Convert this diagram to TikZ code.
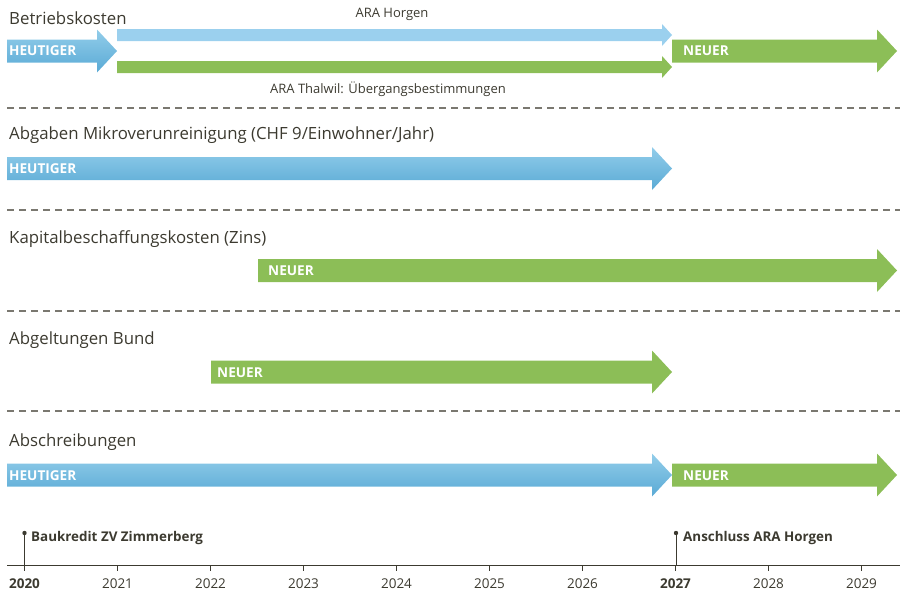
\documentclass[tikz,border=0pt]{standalone}
\usepackage{fontspec}
\setmainfont{Open Sans}
\usetikzlibrary{calc}
\definecolor{txt}{HTML}{3C3A30}
\definecolor{grn}{HTML}{8CBE57}
\definecolor{bltop}{HTML}{92CDEA}
\definecolor{blbot}{HTML}{5AAAD5}
\definecolor{blthin}{HTML}{9BD0EE}
\definecolor{dashc}{HTML}{7A7870}
\tikzset{
  title/.style={anchor=west, text=txt, font=\fontsize{16.8}{20}\selectfont, inner sep=0pt},
  lab/.style={anchor=west, text=white, font=\bfseries\fontsize{13.6}{16}\selectfont, inner sep=0pt},
  small/.style={text=txt, font=\fontsize{13}{15}\selectfont, inner sep=0pt},
  year/.style={text=txt, font=\fontsize{13.5}{16}\selectfont, inner sep=0pt},
  byear/.style={text=txt, font=\bfseries\fontsize{13.5}{16}\selectfont, inner sep=0pt},
  event/.style={anchor=west, text=txt, font=\bfseries\fontsize{13.4}{16}\selectfont, inner sep=0pt},
  sep/.style={draw=dashc, line width=1.2pt, dash pattern=on 7pt off 5pt},
  bluefill/.style={top color=bltop, bottom color=blbot, draw=none},
  greenfill/.style={fill=grn, draw=none},
}
% #1 x start, #2 x tip, #3 y center, #4 style
\newcommand\bigarr[4]{%
  \path[#4] (#1,#3-11.5) -- ({#2-20},#3-11.5) -- ({#2-20},#3-21.5) -- (#2,#3) -- ({#2-20},#3+21.5) -- ({#2-20},#3+11.5) -- (#1,#3+11.5) -- cycle;}
\newcommand\thinarr[4]{%
  \path[#4] (#1,#3-6) -- ({#2-10},#3-6) -- ({#2-10},#3-11) -- (#2,#3) -- ({#2-10},#3+11) -- ({#2-10},#3+6) -- (#1,#3+6) -- cycle;}
\begin{document}
\begin{tikzpicture}[x=1pt,y=-1pt]
\useasboundingbox (0,0) rectangle (900,592);
% separators
\foreach \yy in {108,210,311,411} \draw[sep] (7,\yy) -- (900,\yy);
% Row 1
\node[title] (t1) at (9,18) {Betriebskosten};
\bigarr{7}{117}{51}{bluefill}
\node[lab] (h1) at (9,51) {HEUTIGER};
\thinarr{117}{672}{35}{fill=blthin}
\thinarr{117}{672}{67}{greenfill}
\node[small] (aH) at (392,14) {ARA Horgen};
\node[small] (aT) at (388,89) {ARA Thalwil: Übergangsbestimmungen};
\bigarr{672}{897}{51}{greenfill}
\node[lab] (n1) at (683,51) {NEUER};
% Row 2
\node[title] (t2) at (9,135) {Abgaben Mikroverunreinigung (CHF 9/Einwohner/Jahr)};
\bigarr{7}{672}{168.5}{bluefill}
\node[lab] (h2) at (9,169) {HEUTIGER};
% Row 3
\node[title] (t3) at (9,239) {Kapitalbeschaffungskosten (Zins)};
\bigarr{258}{897}{270.5}{greenfill}
\node[lab] (n3) at (268,271) {NEUER};
% Row 4
\node[title] (t4) at (9,340) {Abgeltungen Bund};
\bigarr{211}{672}{372}{greenfill}
\node[lab] (n4) at (217,373) {NEUER};
% Row 5
\node[title] (t5) at (9,442) {Abschreibungen};
\bigarr{7}{672}{475}{bluefill}
\node[lab] (h5) at (9,476) {HEUTIGER};
\bigarr{672}{897}{475}{greenfill}
\node[lab] (n5) at (683,476) {NEUER};
% Axis
\coordinate (a0) at (7,565);
\coordinate (a1) at (900,565);
\draw[txt, line width=0.9pt] (a0) -- (a1);
\foreach \i in {0,...,9} {
  \pgfmathsetmacro\xx{24.5+93*\i}
  \draw[txt, line width=0.9pt] (\xx,565) -- (\xx,571);
}
\foreach \i/\yr in {1/2021,2/2022,3/2023,4/2024,5/2025,6/2026,8/2028,9/2029} {
  \pgfmathsetmacro\xx{24.5+93*\i}
  \node[year] (y\yr) at (\xx,584) {\yr};
}
\node[byear] (y2020) at (24.5,584) {2020};
\node[byear] (y2027) at (675.5,584) {2027};
% events
\coordinate (e1) at (24.5,533);
\coordinate (e1b) at (24.5,565);
\draw[txt, line width=0.9pt] (e1) -- (e1b);
\fill[txt] (e1) circle (2.2);
\node[event] (ev1) at (31,538) {Baukredit ZV Zimmerberg};
\coordinate (e2) at (676,533);
\coordinate (e2b) at (676,565);
\draw[txt, line width=0.9pt] (e2) -- (e2b);
\fill[txt] (e2) circle (2.2);
\node[event] (ev2) at (683,538) {Anschluss ARA Horgen};
\end{tikzpicture}
\end{document}
